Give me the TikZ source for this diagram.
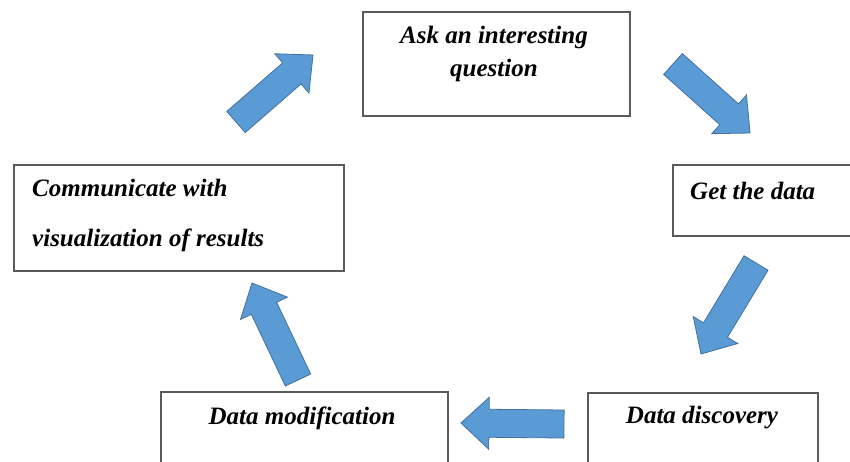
\documentclass[tikz,border=0pt]{standalone}
\usepackage{fontspec}
\setmainfont{Liberation Serif}
\usetikzlibrary{calc}
\definecolor{arrowfill}{HTML}{5B9BD5}
\definecolor{arrowline}{HTML}{41719C}
\definecolor{boxline}{HTML}{5A5A5A}
\newcommand\blockarrow[2]{%
  \coordinate (ba-b) at ($(#2)!28pt!(#1)$);
  \filldraw[barrow] ($(#1)!14pt!90:(#2)$) -- ($(ba-b)!14pt!-90:(#1)$) -- ($(ba-b)!26pt!-90:(#1)$) -- (#2) -- ($(ba-b)!26pt!90:(#1)$) -- ($(ba-b)!14pt!90:(#1)$) -- ($(#1)!14pt!-90:(#2)$) -- cycle;
}
\tikzset{
  box/.style={draw=boxline, line width=1.6pt, fill=white, inner sep=0pt, anchor=north west},
  lbl/.style={inner sep=0pt, font=\fontsize{25}{33}\selectfont\bfseries\itshape},
  barrow/.style={fill=arrowfill, draw=arrowline, line width=0.8pt, line join=miter}
}
\begin{document}
\begin{tikzpicture}[x=1pt,y=-1pt]
\useasboundingbox (0,0) rectangle (850,461);
\clip (0,0) rectangle (850,461);
\fill[white] (0,0) rectangle (850,461);
% boxes
\node[box, minimum width=267pt, minimum height=104pt] (askbox) at (362,11) {};
\node[box, minimum width=200pt, minimum height=71pt] (getbox) at (672,164) {};
\node[box, minimum width=230pt, minimum height=90pt] (discbox) at (587,392) {};
\node[box, minimum width=287pt, minimum height=90pt] (modbox) at (160,391) {};
\node[box, minimum width=330pt, minimum height=106pt] (combox) at (13,164) {};
% labels
\node[lbl, align=center] (ask) at (494,54) {Ask an interesting\\question};
\node[lbl, anchor=west] (get) at (690,191) {Get the data};
\node[lbl] (disc) at (702,418) {Data discovery};
\node[lbl] (mod) at (302,418) {Data modification};
\node[lbl, align=left, anchor=west, font=\fontsize{25}{50}\selectfont\bfseries\itshape] (com) at (32,215) {Communicate with\\visualization of results};
% arrows
\coordinate (a1t) at (236,122); \coordinate (a1h) at (313,55);
\coordinate (a2t) at (673,64);  \coordinate (a2h) at (750,133);
\coordinate (a3t) at (756,263); \coordinate (a3h) at (701,354);
\coordinate (a4t) at (564,424); \coordinate (a4h) at (461,423);
\coordinate (a5t) at (298,380); \coordinate (a5h) at (252,283);
\blockarrow{a1t}{a1h}
\blockarrow{a2t}{a2h}
\blockarrow{a3t}{a3h}
\blockarrow{a4t}{a4h}
\blockarrow{a5t}{a5h}
\end{tikzpicture}
\end{document}
